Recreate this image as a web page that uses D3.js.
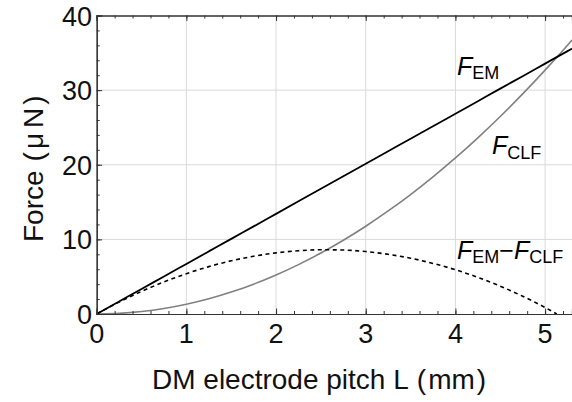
<!DOCTYPE html>
<html>
<head>
<meta charset="utf-8">
<script src="https://cdn.jsdelivr.net/npm/d3@7"></script>
<style>
  html, body { margin: 0; padding: 0; background: #fff; }
  svg { display: block; font-family: "Liberation Sans", Arial, sans-serif; }
</style>
</head>
<body>
<svg id="chart" width="572" height="402"></svg>
<script>
// Electrode pitch L (mm) at which forces are sampled
const pitch = [0, 0.25, 0.5, 0.75, 1, 1.25, 1.5, 1.75, 2, 2.25, 2.5, 2.75, 3,
  3.25, 3.5, 3.75, 4, 4.25, 4.5, 4.75, 5, 5.25, 5.3];
// Electromagnetic force F_EM (µN)
const forceEM = [0, 1.68, 3.36, 5.03, 6.71, 8.39, 10.07, 11.74, 13.42, 15.10,
  16.78, 18.45, 20.13, 21.81, 23.49, 25.16, 26.84, 28.52, 30.20, 31.87, 33.55, 35.23, 35.56];
// Capillary force F_CLF (µN)
const forceCLF = [0, 0.08, 0.33, 0.74, 1.31, 2.04, 2.94, 4.00, 5.23, 6.62,
  8.17, 9.88, 11.76, 13.81, 16.01, 18.38, 20.91, 23.61, 26.47, 29.49, 32.68, 36.02, 36.71];
// Net force F_EM − F_CLF (µN), drawn until it reaches zero
const netPitch = [0, 0.25, 0.5, 0.75, 1, 1.25, 1.5, 1.75, 2, 2.25, 2.5, 2.75, 3,
  3.25, 3.5, 3.75, 4, 4.25, 4.5, 4.75, 5, 5.13];
const forceNet = [0, 1.60, 3.03, 4.30, 5.40, 6.35, 7.13, 7.74, 8.19, 8.48,
  8.61, 8.57, 8.37, 8.00, 7.48, 6.78, 5.93, 4.91, 3.73, 2.38, 0.87, 0];

const xTicks = [0, 1, 2, 3, 4, 5];
const yTicks = [0, 10, 20, 30, 40];

const svg = d3.select("#chart");
const plotLeft = 96.7, plotRight = 572, plotTop = 15.5, plotBottom = 314;

const x = d3.scaleLinear().domain([0, 5.3]).range([plotLeft, plotRight]);
const y = d3.scaleLinear().domain([0, 40]).range([plotBottom, plotTop]);

// grid
const grid = svg.append("g").attr("stroke", "#dadada").attr("stroke-width", 1);
xTicks.filter(d => d > 0).forEach(d => {
  grid.append("line").attr("x1", x(d)).attr("x2", x(d)).attr("y1", plotTop).attr("y2", plotBottom);
});
yTicks.filter(d => d > 0 && d < 40).forEach(d => {
  grid.append("line").attr("x1", plotLeft).attr("x2", plotRight).attr("y1", y(d)).attr("y2", y(d));
});

svg.append("defs").append("clipPath").attr("id", "plot")
  .append("rect").attr("x", plotLeft).attr("y", plotTop)
  .attr("width", plotRight - plotLeft).attr("height", plotBottom - plotTop);

const plot = svg.append("g").attr("clip-path", "url(#plot)");

const line = (xs, ys) => d3.line()
  .x((d, i) => x(xs[i]))
  .y(d => y(d))
  .curve(d3.curveMonotoneX)(ys);

plot.append("path").attr("d", line(pitch, forceCLF))
  .attr("fill", "none").attr("stroke", "#808080").attr("stroke-width", 1.6);
plot.append("path").attr("d", line(netPitch, forceNet))
  .attr("fill", "none").attr("stroke", "#000").attr("stroke-width", 1.6)
  .attr("stroke-dasharray", "4,3.5");
plot.append("path").attr("d", line(pitch, forceEM))
  .attr("fill", "none").attr("stroke", "#000").attr("stroke-width", 1.8);

// frame axes with inward ticks
const axisColor = "#333";
const minorX = d3.range(0, 5.31, 0.2).map(v => +v.toFixed(2));
const minorY = d3.range(0, 40.1, 2);

const bottomAxis = svg.append("g").attr("transform", `translate(0,${plotBottom})`)
  .call(d3.axisBottom(x).tickValues(minorX).tickSize(-3).tickFormat(""));
bottomAxis.append("g")
  .call(d3.axisBottom(x).tickValues(xTicks).tickSize(-5.5).tickFormat(""));

const topAxis = svg.append("g").attr("transform", `translate(0,${plotTop})`)
  .call(d3.axisTop(x).tickValues(minorX).tickSize(-3).tickFormat(""));
topAxis.append("g")
  .call(d3.axisTop(x).tickValues(xTicks).tickSize(-5.5).tickFormat(""));

const leftAxis = svg.append("g").attr("transform", `translate(${plotLeft},0)`)
  .call(d3.axisLeft(y).tickValues(minorY).tickSize(-3).tickFormat(""));
leftAxis.append("g")
  .call(d3.axisLeft(y).tickValues(yTicks).tickSize(-5.5).tickFormat(""));

svg.selectAll(".domain").attr("stroke", axisColor).attr("stroke-width", 1.2);
svg.selectAll(".tick line").attr("stroke", axisColor).attr("stroke-width", 1);

// tick labels
svg.append("g").selectAll("text").data(xTicks).join("text")
  .attr("x", d => x(d)).attr("y", 343)
  .attr("text-anchor", "middle").attr("font-size", 27).attr("fill", "#111")
  .text(d => d);
svg.append("g").selectAll("text").data(yTicks).join("text")
  .attr("x", 92).attr("y", d => y(d) + 10)
  .attr("text-anchor", "end").attr("font-size", 27).attr("fill", "#111")
  .text(d => d);

// axis titles (parentheses around units set a little apart)
const xTitle = svg.append("text")
  .attr("x", 152).attr("y", 389)
  .attr("font-size", 28).attr("fill", "#111");
xTitle.append("tspan").text("DM electrode pitch L");
xTitle.append("tspan").attr("dx", 8).text("(");
xTitle.append("tspan").attr("dx", 2).text("mm");
xTitle.append("tspan").attr("dx", 2).text(")");

const yTitle = svg.append("text")
  .attr("transform", "translate(43,242) rotate(-90)")
  .attr("font-size", 28).attr("fill", "#111");
yTitle.append("tspan").text("Force");
yTitle.append("tspan").attr("dx", 9).text("(");
yTitle.append("tspan").attr("dx", 3).text("μ");
yTitle.append("tspan").attr("dx", 5).text("N");
yTitle.append("tspan").attr("dx", 3).text(")");

// series annotations
function label(px, py, parts) {
  const t = svg.append("text").attr("x", px).attr("y", py).attr("fill", "#000");
  parts.forEach(p => {
    const s = t.append("tspan").text(p.text);
    if (p.italic) s.attr("font-style", "italic").attr("font-size", 25).attr("dy", p.dy || 0);
    else if (p.sub) s.attr("font-size", 18).attr("dy", p.dy);
    else s.attr("font-size", 25).attr("dy", p.dy);
  });
}
label(457, 75, [{ text: "F", italic: true }, { text: "EM", sub: true, dy: 4 }]);
label(492, 154, [{ text: "F", italic: true }, { text: "CLF", sub: true, dy: 5 }]);
label(457, 259, [
  { text: "F", italic: true }, { text: "EM", sub: true, dy: 4 },
  { text: "−", dy: -4 }, { text: "F", italic: true }, { text: "CLF", sub: true, dy: 4 }
]);
</script>
</body>
</html>
